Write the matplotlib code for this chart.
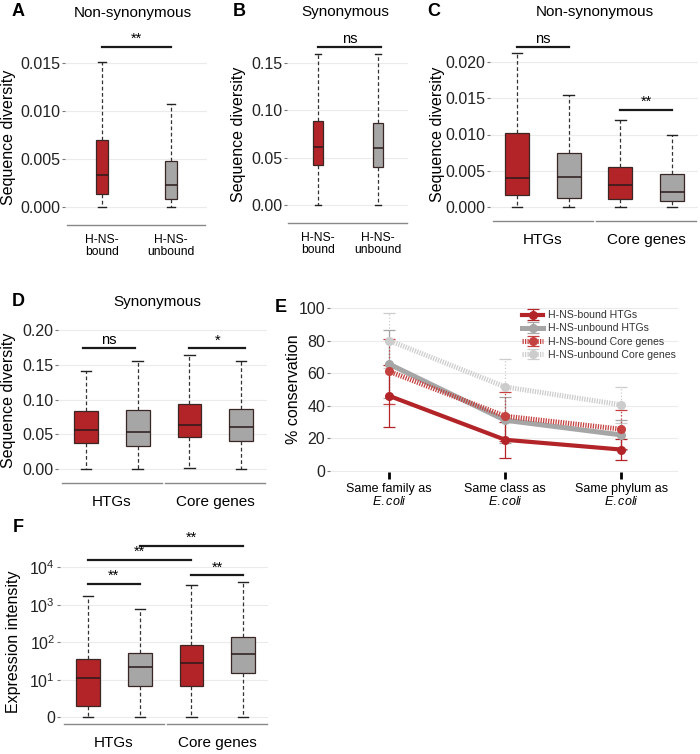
import numpy as np
import matplotlib.pyplot as plt

plt.rcParams['font.family'] = ['Liberation Sans', 'DejaVu Sans']
plt.rcParams['mathtext.fontset'] = 'custom'
plt.rcParams['mathtext.rm'] = 'Liberation Sans'
plt.rcParams['mathtext.it'] = 'Liberation Sans:italic'

# box stats: [whisker low, q1, median, q3, whisker high]
a_bound = [0.0, 0.0014, 0.0033, 0.0070, 0.0151]
a_unbound = [0.0, 0.0008, 0.0023, 0.0048, 0.0107]
b_bound = [0.0, 0.042, 0.061, 0.089, 0.160]
b_unbound = [0.0, 0.040, 0.060, 0.087, 0.159]
ab_labels = ['H-NS-\nbound', 'H-NS-\nunbound']

c_htg_bound = [0.0, 0.0016, 0.0040, 0.0102, 0.0212]
c_htg_unbound = [0.0, 0.0013, 0.0041, 0.0075, 0.0155]
c_core_bound = [0.0, 0.0011, 0.0030, 0.0055, 0.0120]
c_core_unbound = [0.0, 0.0008, 0.0021, 0.0045, 0.0100]

d_htg_bound = [0.0, 0.038, 0.056, 0.083, 0.141]
d_htg_unbound = [0.0, 0.033, 0.053, 0.085, 0.156]
d_core_bound = [0.002, 0.046, 0.064, 0.094, 0.164]
d_core_unbound = [0.0, 0.041, 0.061, 0.087, 0.156]

f_htg_bound = [1, 2.0, 11, 36, 1720]
f_htg_unbound = [1, 6.9, 22, 53, 790]
f_core_bound = [1, 7.0, 28, 87, 3450]
f_core_unbound = [1, 14.9, 48, 139, 3980]
groups = ['HTGs', 'Core genes']

# panel E: % conservation (mean, error)
e_cats = ['Same family as\n$\\it{E.coli}$', 'Same class as\n$\\it{E.coli}$',
          'Same phylum as\n$\\it{E.coli}$']
bound_htg = [46, 19, 13]
bound_htg_err = [19, 11, 6.5]
unbound_htg = [65.5, 31, 22]
unbound_htg_err = [21, 14, 9]
bound_core = [61, 33.5, 25.5]
bound_core_err = [20, 15, 12]
unbound_core = [80, 51.5, 40.5]
unbound_core_err = [17, 17, 11]

RED = '#B22428'
GRAY = '#A6A6A6'
W, H = 700, 754
TICK_FS = 11.5

fig = plt.figure(figsize=(7, 7.54), dpi=100)


def px_ax(l, t, r, b):
    return fig.add_axes([l / W, 1 - b / H, (r - l) / W, (b - t) / H])


def lim(t, b, v0, p0, v1, p1):
    k = (p0 - p1) / (v1 - v0)
    return v0 - (b - p0) / k, v0 + (p0 - t) / k


def ftext(x, y, s, **kw):
    fig.text(x / W, 1 - y / H, s, ha='center', va='center', **kw)


def box_panel(rect, data, ylim, yticks, ylabels, xlim, width, capw):
    ax = px_ax(*rect)
    stats = [dict(whislo=d[0], q1=d[1], med=d[2], q3=d[3], whishi=d[4]) for d in data]
    art = ax.bxp(stats, positions=range(len(data)), widths=width, capwidths=capw,
                 showfliers=False, patch_artist=True,
                 boxprops=dict(edgecolor='#3b2626', linewidth=0.9),
                 medianprops=dict(color='#2b1a1a', linewidth=1.1),
                 whiskerprops=dict(color='#333333', linewidth=0.9, linestyle=(0, (3, 2))),
                 capprops=dict(color='#222222', linewidth=1.0))
    for i, p in enumerate(art['boxes']):
        p.set_facecolor(RED if i % 2 == 0 else GRAY)
    for s in ax.spines.values():
        s.set_visible(False)
    ax.set_ylim(*ylim)
    ax.set_xlim(*xlim)
    ax.set_yticks(yticks)
    ax.set_yticklabels(ylabels)
    ax.set_axisbelow(True)
    ax.grid(axis='y', color='#EBEBEB', lw=0.8)
    ax.tick_params(axis='y', length=2, color='#777777', labelsize=TICK_FS, pad=1.5,
                   labelcolor='#222222')
    ax.tick_params(axis='x', length=0)
    return ax


def base_line(ax, x0, x1):
    ax.plot([x0, x1], [0, 0], transform=ax.get_xaxis_transform(), color='#888888',
            lw=1, clip_on=False)


def group_axis(ax):
    base_line(ax, -0.47, 1.47)
    base_line(ax, 1.53, 3.47)
    ax.set_xticks([0.5, 2.5])
    ax.set_xticklabels(groups, fontsize=11)
    ax.tick_params(axis='x', pad=8.5)


def sig(ax, x0, x1, y, s, fs=10.5):
    ax.plot([x0, x1], [y, y], color='#1a1a1a', lw=1.6, clip_on=False)
    ax.annotate(s, ((x0 + x1) / 2, y), xytext=(0, 0.5), textcoords='offset points',
                ha='center', va='bottom', fontsize=fs, annotation_clip=False)


# A
ax = box_panel((65, 35, 207, 225), [a_bound, a_unbound], lim(35, 225, 0, 207, 0.015, 63),
               [0, 0.005, 0.010, 0.015], ['0.000', '0.005', '0.010', '0.015'],
               (-0.536, 1.52), 0.18, 0.12)
base_line(ax, -0.5, 1.49)
ax.set_xticks([0, 1])
ax.set_xticklabels(ab_labels, fontsize=8.7, linespacing=1.0)
ax.tick_params(axis='x', pad=6.5)
sig(ax, 0, 1, 0.0167, '**')

# B
ax = box_panel((287, 35, 408, 223), [b_bound, b_unbound], lim(35, 223, 0, 205, 0.15, 63),
               [0, 0.05, 0.10, 0.15], ['0.00', '0.05', '0.10', '0.15'],
               (-0.52, 1.5), 0.17, 0.09)
base_line(ax, -0.5, 1.48)
ax.set_xticks([0, 1])
ax.set_xticklabels(ab_labels, fontsize=8.7, linespacing=1.0)
ax.tick_params(axis='x', pad=6.5)
sig(ax, 0, 1.05, 0.167, 'ns')

# C
ax = box_panel((490, 30, 698, 221), [c_htg_bound, c_htg_unbound, c_core_bound, c_core_unbound],
               lim(30, 221, 0, 207, 0.02, 62),
               [0, 0.005, 0.010, 0.015, 0.020], ['0.000', '0.005', '0.010', '0.015', '0.020'],
               (-0.52, 3.5), 0.46, 0.2)
group_axis(ax)
sig(ax, 0, 1, 0.0221, 'ns')
sig(ax, 2, 3, 0.0134, '**')

# D
ax = box_panel((58, 325, 267, 483), [d_htg_bound, d_htg_unbound, d_core_bound, d_core_unbound],
               lim(325, 483, 0, 469, 0.15, 365),
               [0, 0.05, 0.10, 0.15, 0.20], ['0.00', '0.05', '0.10', '0.15', '0.20'],
               (-0.54, 3.5), 0.46, 0.2)
group_axis(ax)
sig(ax, -0.05, 0.95, 0.1745, 'ns')
sig(ax, 2, 3.08, 0.1745, '*')

# F
flo, fhi = lim(535, 724, 0, 717.3, 4, 567.3)
ax = box_panel((60, 535, 268, 724), [f_htg_bound, f_htg_unbound, f_core_bound, f_core_unbound],
               (1, 10), [1, 10], ['0', '1'], (-0.54, 3.48), 0.46, 0.2)
ax.set_yscale('log')
ax.set_ylim(10 ** flo, 10 ** fhi)
ax.set_yticks([1, 10, 100, 1000, 10000])
ax.set_yticklabels(['0', '$10^1$', '$10^2$', '$10^3$', '$10^4$'])
ax.minorticks_off()
group_axis(ax)
sig(ax, 1, 3, 10 ** 4.57, '**')
sig(ax, 0, 2, 10 ** 4.20, '**')
sig(ax, 2, 3, 10 ** 3.79, '**')
sig(ax, 0, 1, 10 ** 3.56, '**')

# E
ax = px_ax(330, 300, 678, 472)
x = np.arange(len(e_cats))
series = [
    (unbound_core, unbound_core_err, '#CCCCCC', (0, (0.25, 0.25)), 3.6, ':', 'H-NS-unbound Core genes'),
    (unbound_htg, unbound_htg_err, GRAY, '-', 3.6, '-', 'H-NS-unbound HTGs'),
    (bound_core, bound_core_err, '#C4413F', (0, (0.25, 0.25)), 3.6, ':', 'H-NS-bound Core genes'),
    (bound_htg, bound_htg_err, RED, '-', 3.0, '-', 'H-NS-bound HTGs'),
]
handles = {}
for vals, err, col, ls, lw, els, lab in series:
    c = ax.errorbar(x, vals, yerr=err, color=col, ls=ls, lw=lw, marker='o', ms=5.5,
                    elinewidth=0.9, capsize=4, capthick=0.9, label=lab)
    c[2][0].set_linestyle(els)
    handles[lab] = c
order = ['H-NS-bound HTGs', 'H-NS-unbound HTGs', 'H-NS-bound Core genes', 'H-NS-unbound Core genes']
ax.legend([handles[k] for k in order], order, loc='upper left',
          bbox_to_anchor=(517 / W, 1 - 305 / H), bbox_transform=fig.transFigure,
          frameon=False, fontsize=7.6, labelspacing=0.3, borderpad=0, handlelength=2.0,
          handletextpad=0.45, labelcolor='#333333')
ax.set_ylim(*lim(300, 472, 0, 470.7, 100, 308))
ax.set_xlim(-0.51, 2.49)
for s in ax.spines.values():
    s.set_visible(False)
ax.set_yticks([0, 20, 40, 60, 80, 100])
ax.set_axisbelow(True)
ax.grid(axis='y', color='#EBEBEB', lw=0.8)
ax.tick_params(axis='y', length=2, color='#777777', labelsize=TICK_FS, pad=1.5,
               labelcolor='#222222')
ax.set_xticks(x)
ax.set_xticklabels(e_cats, fontsize=9, linespacing=1.0)
ax.tick_params(axis='x', length=5, width=2, color='black', pad=3)

# titles, letters, y labels
for lx, ly, s in [(18, 11, 'A'), (239, 11, 'B'), (434, 11, 'C'), (18, 302, 'D'),
                  (281, 307, 'E'), (18, 528, 'F')]:
    ftext(lx, ly, s, fontsize=13, fontweight='bold')
for tx, ty, s in [(133, 13, 'Non-synonymous'), (345, 12, 'Synonymous'),
                  (595, 12, 'Non-synonymous'), (157, 302, 'Synonymous')]:
    ftext(tx, ty, s, fontsize=11)
for yx, yy, s in [(9, 137, 'Sequence diversity'), (239, 134, 'Sequence diversity'),
                  (437, 134, 'Sequence diversity'), (9, 400, 'Sequence diversity'),
                  (293, 389, '% conservation'), (14, 642, 'Expression intensity')]:
    ftext(yx, yy, s, fontsize=11.5, rotation=90)

fig.savefig('out.png', dpi=100)
